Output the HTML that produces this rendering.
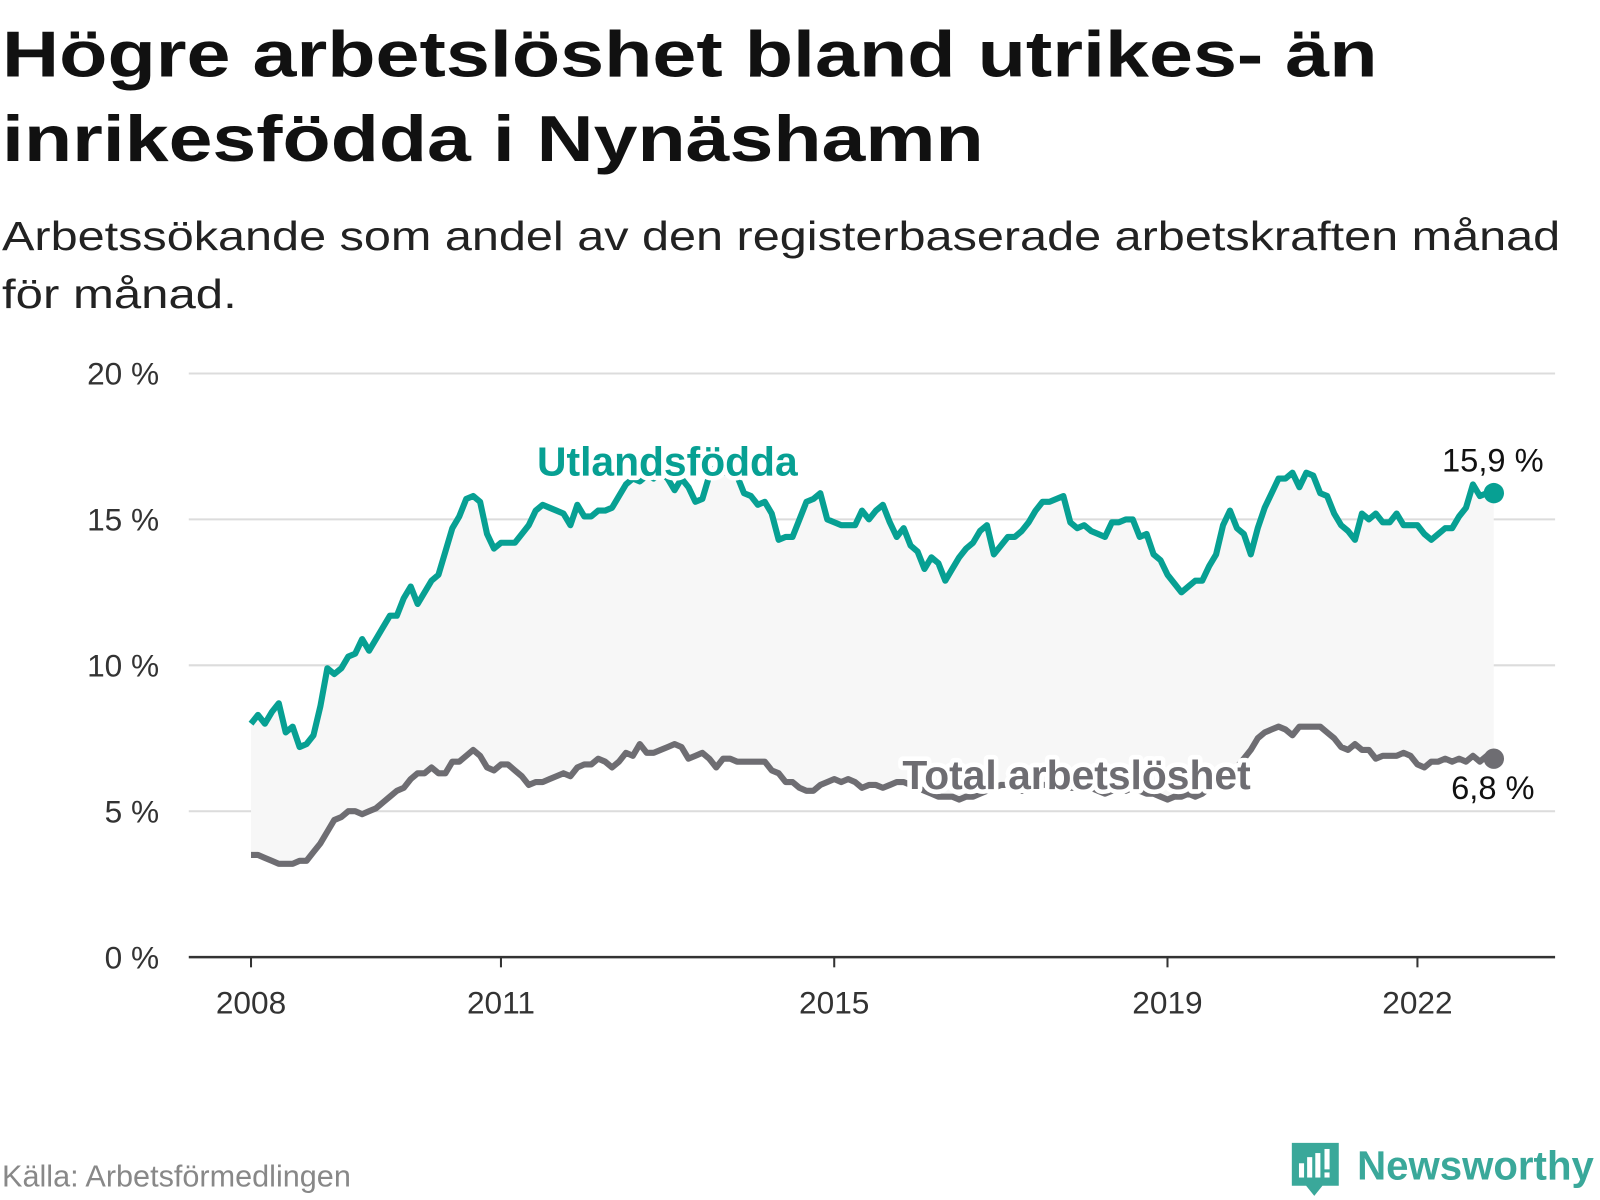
<!DOCTYPE html>
<html><head><meta charset="utf-8"><style>
html,body{margin:0;padding:0;background:#fff;}
svg{display:block;font-family:"Liberation Sans",sans-serif;}
</style></head><body>
<svg id="chart" width="1600" height="1200" viewBox="0 0 1600 1200">
<g transform="scale(1.0204)">
<text x="2" y="75" font-size="64" font-weight="bold" fill="#111" textLength="1348" lengthAdjust="spacingAndGlyphs">Högre arbetslöshet bland utrikes- än</text>
<text x="2" y="158" font-size="64" font-weight="bold" fill="#111" textLength="962" lengthAdjust="spacingAndGlyphs">inrikesfödda i Nynäshamn</text>
<text x="2" y="245" font-size="40" fill="#222" textLength="1527" lengthAdjust="spacingAndGlyphs">Arbetssökande som andel av den registerbaserade arbetskraften månad</text>
<text x="2" y="302" font-size="40" fill="#222" textLength="230" lengthAdjust="spacingAndGlyphs">för månad.</text>
<g id="grid"></g>
<g id="yaxis"></g>
<g id="xaxis"></g>
<g id="plot"></g>
<text x="2" y="1163" font-size="30" fill="#888">Källa: Arbetsförmedlingen</text>
<g>
<path d="M1266 1120 h46 v42 h-16 l-8 10 l-8 -10 h-14 z" fill="#3aa89a"/>
<rect x="1273" y="1140" width="5" height="14" fill="#fff"/><rect x="1281" y="1134" width="5" height="20" fill="#fff"/><rect x="1289" y="1130" width="5" height="24" fill="#fff"/><rect x="1298" y="1126" width="5" height="20" fill="#fff"/><rect x="1298" y="1149" width="5" height="5" fill="#fff"/>
<text x="1330" y="1156" font-size="40" font-weight="bold" fill="#3aa89a" textLength="232" lengthAdjust="spacingAndGlyphs">Newsworthy</text>
</g>
</g>
</svg>
<script>
const yTicks=[0,5,10,15,20];
const yTickLabels=["0 %","5 %","10 %","15 %","20 %"];
const xTickYears=[2008,2011,2015,2019,2022];
const startYear=2008;
const utlandsfodda=[
8.0,8.3,8.0,8.4,8.7,7.7,7.9,7.2,7.3,7.6,8.6,9.9,
9.7,9.9,10.3,10.4,10.9,10.5,10.9,11.3,11.7,11.7,12.3,12.7,
12.1,12.5,12.9,13.1,13.9,14.7,15.1,15.7,15.8,15.6,14.5,14.0,
14.2,14.2,14.2,14.5,14.8,15.3,15.5,15.4,15.3,15.2,14.8,15.5,
15.1,15.1,15.3,15.3,15.4,15.8,16.2,16.4,16.3,16.5,16.4,16.6,
16.4,16.0,16.4,16.1,15.6,15.7,16.5,16.8,16.6,16.6,16.5,15.9,
15.8,15.5,15.6,15.2,14.3,14.4,14.4,15.0,15.6,15.7,15.9,15.0,
14.9,14.8,14.8,14.8,15.3,15.0,15.3,15.5,14.9,14.4,14.7,14.1,
13.9,13.3,13.7,13.5,12.9,13.3,13.7,14.0,14.2,14.6,14.8,13.8,
14.1,14.4,14.4,14.6,14.9,15.3,15.6,15.6,15.7,15.8,14.9,14.7,
14.8,14.6,14.5,14.4,14.9,14.9,15.0,15.0,14.4,14.5,13.8,13.6,
13.1,12.8,12.5,12.7,12.9,12.9,13.4,13.8,14.8,15.3,14.7,14.5,
13.8,14.7,15.4,15.9,16.4,16.4,16.6,16.1,16.6,16.5,15.9,15.8,
15.2,14.8,14.6,14.3,15.2,15.0,15.2,14.9,14.9,15.2,14.8,14.8,
14.8,14.5,14.3,14.5,14.7,14.7,15.1,15.4,16.2,15.8,15.9,15.9];
const total=[
3.5,3.5,3.4,3.3,3.2,3.2,3.2,3.3,3.3,3.6,3.9,4.3,
4.7,4.8,5.0,5.0,4.9,5.0,5.1,5.3,5.5,5.7,5.8,6.1,
6.3,6.3,6.5,6.3,6.3,6.7,6.7,6.9,7.1,6.9,6.5,6.4,
6.6,6.6,6.4,6.2,5.9,6.0,6.0,6.1,6.2,6.3,6.2,6.5,
6.6,6.6,6.8,6.7,6.5,6.7,7.0,6.9,7.3,7.0,7.0,7.1,
7.2,7.3,7.2,6.8,6.9,7.0,6.8,6.5,6.8,6.8,6.7,6.7,
6.7,6.7,6.7,6.4,6.3,6.0,6.0,5.8,5.7,5.7,5.9,6.0,
6.1,6.0,6.1,6.0,5.8,5.9,5.9,5.8,5.9,6.0,6.0,5.9,
5.8,5.7,5.6,5.5,5.5,5.5,5.4,5.5,5.5,5.6,5.7,5.8,
5.9,5.9,5.8,5.7,5.8,5.8,5.9,5.9,5.9,5.8,5.8,5.8,
5.8,5.8,5.7,5.6,5.7,5.8,5.7,5.8,5.7,5.6,5.6,5.5,
5.4,5.5,5.5,5.6,5.5,5.6,5.8,5.9,6.1,6.3,6.5,6.8,
7.1,7.5,7.7,7.8,7.9,7.8,7.6,7.9,7.9,7.9,7.9,7.7,
7.5,7.2,7.1,7.3,7.1,7.1,6.8,6.9,6.9,6.9,7.0,6.9,
6.6,6.5,6.7,6.7,6.8,6.7,6.8,6.7,6.9,6.7,6.9,6.8];
const NS="http://www.w3.org/2000/svg";
const X0=246,PX_YEAR=81.65,Y0=938,PX_PCT=28.6;
const xm=i=>X0+i*PX_YEAR/12;
const xy=yr=>X0+(yr-startYear)*PX_YEAR;
const ys=v=>Y0-v*PX_PCT;
function mk(tag,attrs,parent){const e=document.createElementNS(NS,tag);for(const k in attrs)e.setAttribute(k,attrs[k]);parent.appendChild(e);return e;}
const grid=document.getElementById('grid'),yax=document.getElementById('yaxis'),xax=document.getElementById('xaxis'),plot=document.getElementById('plot');
yTicks.forEach((t,i)=>{
  if(t>0){const l=mk('line',{x1:185,x2:1524,y1:ys(t),y2:ys(t),stroke:'#dcdcdc','stroke-width':2},grid);
  
  }
  const tx=mk('text',{x:156,y:ys(t)+11,'font-size':31,fill:'#333','text-anchor':'end'},yax);
  tx.textContent=yTickLabels[i];
  
  
});
const base=mk('line',{x1:185,x2:1524,y1:Y0,y2:Y0,stroke:'#333','stroke-width':2.5},xax);


xTickYears.forEach(yr=>{
  const x=xy(yr);
  const tk=mk('line',{x1:x,x2:x,y1:Y0,y2:Y0+10,stroke:'#333','stroke-width':2},xax);
  
  
  const tx=mk('text',{x:x,y:Y0+55,'font-size':31,fill:'#333','text-anchor':'middle'},xax);
  tx.textContent=String(yr);
  
  
});
const n=utlandsfodda.length;
let d='';
for(let i=0;i<n;i++)d+=(i?'L':'M')+xm(i).toFixed(1)+','+ys(utlandsfodda[i]).toFixed(1);
for(let i=n-1;i>=0;i--)d+='L'+xm(i).toFixed(1)+','+ys(total[i]).toFixed(1);
const area=mk('path',{d:d+'Z',fill:'#f7f7f7'},plot);


function line(arr,color,name){
  let p='';arr.forEach((v,i)=>p+=(i?'L':'M')+xm(i).toFixed(1)+','+ys(v).toFixed(1));
  const l=mk('path',{d:p,fill:'none',stroke:color,'stroke-width':6,'stroke-linejoin':'round'},plot);
  
  
  const c=mk('circle',{cx:xm(arr.length-1),cy:ys(arr[arr.length-1]),r:10,fill:color},plot);
  
  
}
line(total,'#6e6d72','total-line');
line(utlandsfodda,'#07a093','utlandsfodda-line');
function label(txt,x,y,color,size,weight,anchor,name){
  const t=mk('text',{x:x,y:y,'font-size':size,'font-weight':weight,fill:color,'text-anchor':anchor,stroke:'#fff','stroke-width':9,'paint-order':'stroke','stroke-linejoin':'round'},plot);
  t.textContent=txt;
  
  
}
label('Utlandsfödda',654,466,'#07a093',40,'bold','middle','utlandsfodda-label');
label('Total arbetslöshet',1055,773,'#6e6d72',40,'bold','middle','total-label');
label('15,9 %',1463,462,'#111',32,'normal','middle','utlandsfodda-end-value');
label('6,8 %',1463,783,'#111',32,'normal','middle','total-end-value');
</script>
</body></html>
